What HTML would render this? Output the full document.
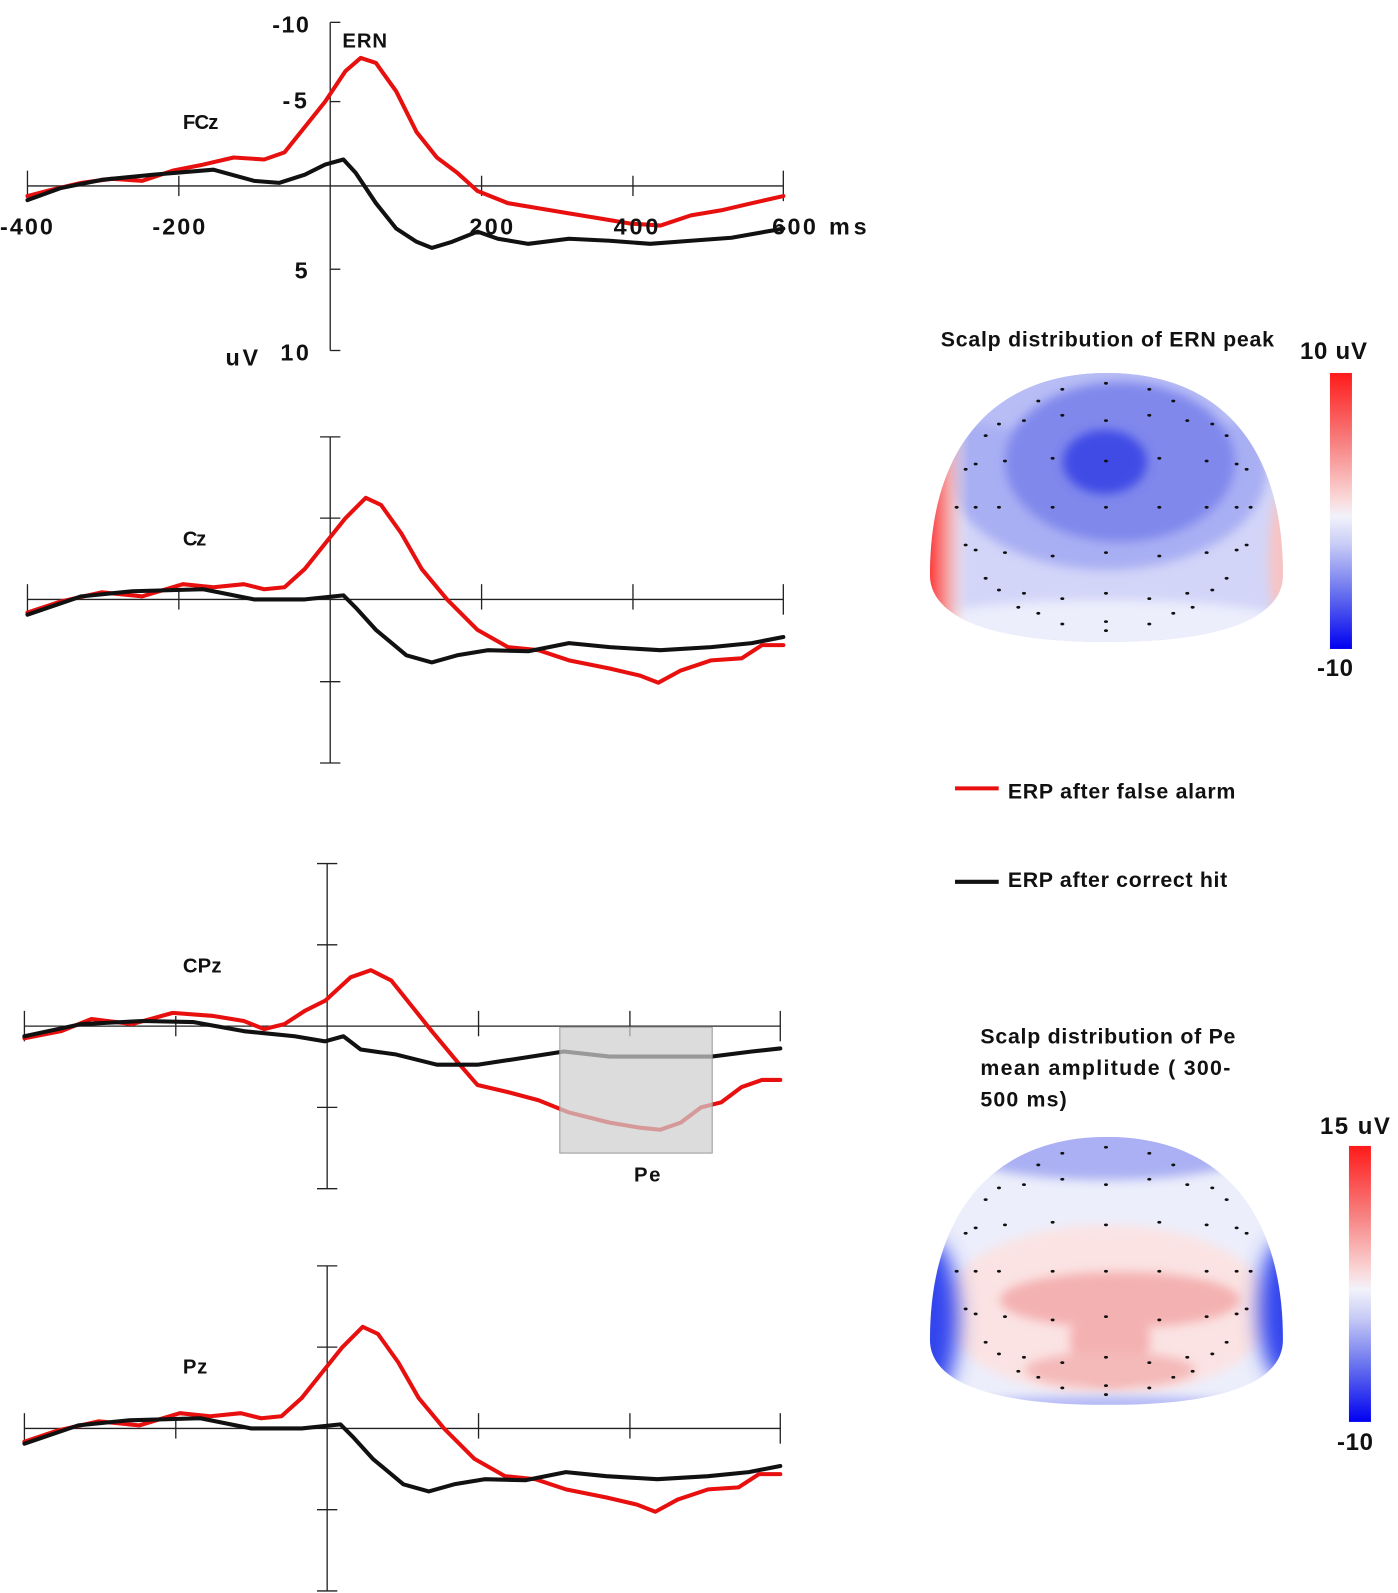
<!DOCTYPE html>
<html><head><meta charset="utf-8"><style>
html,body{margin:0;padding:0;background:#fff;}
svg{display:block;}
text{font-family:"Liberation Sans",sans-serif;font-weight:bold;fill:#111;}
</style></head><body>
<svg width="1398" height="1593" viewBox="0 0 1376 1568" xmlns="http://www.w3.org/2000/svg">
<defs>
<filter id="bl" x="-50%" y="-50%" width="200%" height="200%"><feGaussianBlur stdDeviation="10"/></filter>
<filter id="bl2" x="-50%" y="-50%" width="200%" height="200%"><feGaussianBlur stdDeviation="5"/></filter>
<clipPath id="h1"><path d="M930,575 C930,440 1000,373 1107,373 C1215,373 1283,440 1283,575 C1283,615 1230,642 1107,642 C985,642 930,615 930,575 Z"/></clipPath>
<clipPath id="h2"><path d="M930,1340 C930,1205 1000,1137 1107,1137 C1215,1137 1283,1205 1283,1340 C1283,1380 1230,1405 1107,1405 C985,1405 930,1380 930,1340 Z"/></clipPath>
<linearGradient id="cb" x1="0" y1="0" x2="0" y2="1">
<stop offset="0" stop-color="#ff1a1a"/><stop offset="0.25" stop-color="#f78080"/><stop offset="0.45" stop-color="#fad6d6"/><stop offset="0.52" stop-color="#f2f2fb"/><stop offset="0.62" stop-color="#c9ccf5"/><stop offset="0.8" stop-color="#6670ee"/><stop offset="1" stop-color="#0000f0"/>
</linearGradient>
<linearGradient id="lr" x1="0" y1="0" x2="1" y2="0">
<stop offset="0" stop-color="#ff2020"/><stop offset="0.06" stop-color="#f6a0a0"/><stop offset="0.12" stop-color="#fbeaea" stop-opacity="0"/><stop offset="1" stop-color="#fff" stop-opacity="0"/>
</linearGradient>
</defs>

<g stroke="#222" stroke-width="1.3" fill="none">
<line x1="325" y1="22" x2="325" y2="345"/><line x1="27" y1="183" x2="771" y2="183"/>
<line x1="325" y1="22" x2="335" y2="22"/><line x1="325" y1="100" x2="335" y2="100"/><line x1="325" y1="265" x2="335" y2="265"/><line x1="325" y1="345" x2="335" y2="345"/>
<line x1="27" y1="168" x2="27" y2="198"/><line x1="176" y1="173" x2="176" y2="193"/><line x1="474" y1="173" x2="474" y2="193"/><line x1="623" y1="173" x2="623" y2="193"/><line x1="771" y1="168" x2="771" y2="198"/>
<line x1="325" y1="430" x2="325" y2="751"/><line x1="27" y1="590" x2="771" y2="590"/>
<line x1="315" y1="430" x2="335" y2="430"/><line x1="315" y1="510" x2="335" y2="510"/><line x1="315" y1="671" x2="335" y2="671"/><line x1="315" y1="751" x2="335" y2="751"/>
<line x1="27" y1="575" x2="27" y2="605"/><line x1="176" y1="580" x2="176" y2="600"/><line x1="474" y1="575" x2="474" y2="600"/><line x1="623" y1="575" x2="623" y2="600"/><line x1="771" y1="575" x2="771" y2="605"/>
<line x1="322" y1="850" x2="322" y2="1170"/><line x1="24" y1="1010" x2="768" y2="1010"/>
<line x1="312" y1="850" x2="332" y2="850"/><line x1="312" y1="930" x2="332" y2="930"/><line x1="312" y1="1090" x2="332" y2="1090"/><line x1="312" y1="1170" x2="332" y2="1170"/>
<line x1="24" y1="995" x2="24" y2="1025"/><line x1="173" y1="1000" x2="173" y2="1020"/><line x1="471" y1="995" x2="471" y2="1020"/><line x1="620" y1="995" x2="620" y2="1020"/><line x1="768" y1="995" x2="768" y2="1025"/>
<line x1="322" y1="1246" x2="322" y2="1566"/><line x1="24" y1="1406" x2="768" y2="1406"/>
<line x1="312" y1="1246" x2="332" y2="1246"/><line x1="312" y1="1326" x2="332" y2="1326"/><line x1="312" y1="1486" x2="332" y2="1486"/><line x1="312" y1="1566" x2="332" y2="1566"/>
<line x1="24" y1="1391" x2="24" y2="1421"/><line x1="173" y1="1396" x2="173" y2="1416"/><line x1="471" y1="1391" x2="471" y2="1416"/><line x1="620" y1="1391" x2="620" y2="1416"/><line x1="768" y1="1391" x2="768" y2="1421"/>
</g>

<g fill="none" stroke-width="4" stroke-linejoin="round" stroke-linecap="round">
<polyline stroke="#e80f0f" points="27,193 50,187 80,180 110,176 140,178 170,168 200,162 230,155 260,157 280,150 300,125 320,100 340,70 355,57 370,62 390,90 410,130 430,155 450,170 470,188 500,200 530,205 560,210 590,215 620,220 650,222 680,212 710,207 740,200 771,193"/>
<polyline stroke="#111" points="27,197 60,185 100,177 150,172 210,167 250,178 275,180 300,172 320,162 338,157 350,170 370,200 390,225 410,238 425,244 445,238 470,228 490,235 520,240 560,235 600,237 640,240 680,237 720,234 771,225"/>
<polyline stroke="#e80f0f" points="27,603 60,592 100,583 140,587 180,575 210,578 240,575 260,580 280,578 300,560 320,535 340,510 360,490 375,497 395,525 415,560 440,590 470,620 500,637 530,640 560,650 600,658 630,665 648,672 670,660 700,650 730,648 750,635 771,635"/>
<polyline stroke="#111" points="27,605 80,587 130,582 200,580 250,590 300,590 338,586 350,598 370,620 400,645 425,652 450,645 480,640 520,641 560,633 600,637 650,640 700,637 740,633 771,627"/>
<g transform="translate(-3,816)">
<polyline stroke="#e80f0f" points="27,603 60,592 100,583 140,587 180,575 210,578 240,575 260,580 280,578 300,560 320,535 340,510 360,490 375,497 395,525 415,560 440,590 470,620 500,637 530,640 560,650 600,658 630,665 648,672 670,660 700,650 730,648 750,635 771,635"/>
<polyline stroke="#111" points="27,605 80,587 130,582 200,580 250,590 300,590 338,586 350,598 370,620 400,645 425,652 450,645 480,640 520,641 560,633 600,637 650,640 700,637 740,633 771,627"/>
</g>
<polyline stroke="#e80f0f" points="24,1022 60,1015 90,1003 130,1008 170,997 210,1000 240,1005 260,1013 280,1008 300,995 320,985 345,962 365,955 385,965 405,990 425,1015 450,1045 470,1068 500,1075 530,1083 560,1095 600,1105 630,1110 650,1112 670,1105 690,1090 710,1085 730,1070 750,1063 768,1063"/>
<polyline stroke="#111" points="24,1020 80,1008 140,1005 190,1006 240,1015 290,1020 320,1025 338,1020 355,1033 390,1038 430,1048 470,1048 510,1042 555,1035 600,1040 650,1040 700,1040 740,1035 768,1032"/>
</g>
<rect x="551" y="1011" width="150" height="124" fill="#cfcfcf" fill-opacity="0.72" stroke="#999" stroke-width="1"/>

<g font-size="23">
<text x="268" y="32" textLength="36">-10</text>
<text x="278" y="107" textLength="24">-5</text>
<text x="290" y="274">5</text>
<text x="276" y="355" textLength="28">10</text>
<text x="222" y="360" textLength="32">uV</text>
<text x="0" y="231" textLength="52">-400</text>
<text x="150" y="231" textLength="52">-200</text>
<text x="462" y="231" textLength="43">200</text>
<text x="604" y="231" textLength="44">400</text>
<text x="760" y="231" textLength="43">600</text>
<text x="816" y="231" textLength="37">ms</text>
</g>
<g font-size="20">
<text x="337" y="47" textLength="44">ERN</text>
<text x="180" y="127" textLength="35">FCz</text>
<text x="180" y="537" textLength="23">Cz</text>
<text x="180" y="957" textLength="38">CPz</text>
<text x="180" y="1352" textLength="24">Pz</text>
<text x="624" y="1163" textLength="26">Pe</text>
</g>

<line x1="940" y1="776" x2="983" y2="776" stroke="#e80f0f" stroke-width="4"/>
<line x1="940" y1="868" x2="983" y2="868" stroke="#111" stroke-width="4"/>
<g font-size="21">
<text x="992" y="786" textLength="224">ERP after false alarm</text>
<text x="992" y="873" textLength="216">ERP after correct hit</text>
<text x="926" y="341" textLength="328">Scalp distribution of ERN peak</text>
<text x="965" y="1027" textLength="251">Scalp distribution of Pe</text>
<text x="965" y="1058" textLength="246">mean amplitude ( 300-</text>
<text x="965" y="1089" textLength="85">500 ms)</text>
</g>

<g transform="scale(0.98425)">
<g font-size="24">
<text x="1300" y="359" textLength="67">10 uV</text>
<text x="1317" y="676" textLength="36">-10</text>
<text x="1320" y="1134" textLength="70">15 uV</text>
<text x="1337" y="1450" textLength="36">-10</text>
</g>
<rect x="1330" y="373" width="22" height="276" fill="url(#cb)"/>
<rect x="1349" y="1146" width="22" height="276" fill="url(#cb)"/>

<g clip-path="url(#h1)">
<rect x="900" y="360" width="400" height="300" fill="#d2d5f8"/>
<ellipse cx="1107" cy="470" rx="160" ry="100" fill="#a9aff3" filter="url(#bl2)"/>
<ellipse cx="1107" cy="395" rx="185" ry="40" fill="#b8bdf5" filter="url(#bl2)"/>
<ellipse cx="1120" cy="462" rx="115" ry="80" fill="#8088ec" filter="url(#bl2)"/>
<ellipse cx="1105" cy="462" rx="42" ry="32" fill="#3f4be6" filter="url(#bl2)"/>
<ellipse cx="1107" cy="625" rx="190" ry="25" fill="#eceefc" filter="url(#bl2)"/>
<rect x="925" y="360" width="370" height="300" fill="url(#lr)"/>
<ellipse cx="1283" cy="560" rx="14" ry="70" fill="#f7c4c4" filter="url(#bl2)"/>
</g>

<g clip-path="url(#h2)">
<rect x="900" y="1130" width="400" height="290" fill="#eceefb"/>
<ellipse cx="1107" cy="1145" rx="160" ry="35" fill="#aab0f3" filter="url(#bl2)"/>
<ellipse cx="1107" cy="1310" rx="165" ry="85" fill="#fbe3e3" filter="url(#bl2)"/>
<ellipse cx="1120" cy="1300" rx="120" ry="28" fill="#f4b1b1" filter="url(#bl2)"/>
<ellipse cx="1110" cy="1340" rx="40" ry="45" fill="#f4b1b1" filter="url(#bl2)"/>
<ellipse cx="1110" cy="1370" rx="85" ry="18" fill="#f4b9b9" filter="url(#bl2)"/>
<ellipse cx="930" cy="1320" rx="28" ry="80" fill="#3344ee" filter="url(#bl)"/>
<ellipse cx="1283" cy="1310" rx="24" ry="70" fill="#3344ee" filter="url(#bl)"/>
<ellipse cx="1107" cy="1410" rx="170" ry="14" fill="#b5baf5" filter="url(#bl2)"/>
</g>
<g id="dots1" fill="#111"></g>
<g id="dots2" fill="#111" transform="translate(0,764)"></g>
</g>
</svg>
<script>
var z=[[618,190],[487,208],[748,208],[415,243],[820,243],[487,286],[748,286],[372,302],[618,302],[862,302],[297,312],[937,312],[257,347],[980,347],[315,423],[458,415],[618,423],[778,415],[920,423],[227,432],[1010,432],[197,448],[1040,448],[170,562],[227,562],[297,562],[458,562],[618,562],[778,562],[920,562],[1010,562],[1052,562],[197,675],[1040,675],[227,690],[315,698],[458,708],[618,698],[778,708],[920,698],[1010,690],[257,775],[980,775],[297,810],[372,820],[487,836],[618,820],[748,836],[862,820],[937,810],[355,862],[415,880],[820,880],[878,862],[487,912],[618,905],[748,912],[618,932]];
var ns="http://www.w3.org/2000/svg";
["dots1","dots2"].forEach(function(id){var g=document.getElementById(id);z.forEach(function(p){var c=document.createElementNS(ns,"ellipse");c.setAttribute("cx",900+p[0]/3);c.setAttribute("cy",320+p[1]/3);c.setAttribute("rx",2);c.setAttribute("ry",1.4);g.appendChild(c);});});
</script>
</body></html>
